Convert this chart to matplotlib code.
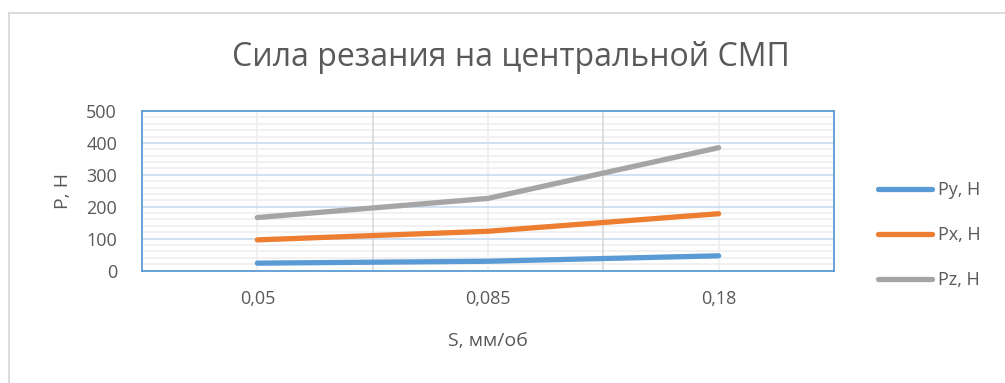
import matplotlib
matplotlib.use("Agg")
import matplotlib.pyplot as plt
from matplotlib.lines import Line2D
from matplotlib.ticker import MultipleLocator

# Feed values and cutting force components
feeds = ["0,05", "0,085", "0,18"]
py_vals = [23, 29, 46]
px_vals = [96, 123, 178]
pz_vals = [166, 226, 385]
series_names = ["Py, H", "Px, H", "Pz, H"]
y_ticks = [0, 100, 200, 300, 400, 500]

colors = ["#5b9bd5", "#ed7d31", "#a5a5a5"]
text_color = "#595959"

plt.rcParams["font.family"] = ["Open Sans", "DejaVu Sans"]

W, H = 1005, 383
fig = plt.figure(figsize=(W / 100, H / 100), dpi=100)

# plot area in pixel units
left, right, top, bottom = 142, 834, 111, 270.5
ax = fig.add_axes([left / W, 1 - bottom / H, (right - left) / W, (bottom - top) / H])

x = list(range(len(feeds)))
for vals, c, name in zip([py_vals, px_vals, pz_vals], colors, series_names):
    ax.plot(x, vals, color=c, lw=3.8, solid_capstyle="round",
            solid_joinstyle="round", label=name, zorder=3)

ax.set_xlim(-0.5, len(feeds) - 0.5)
ax.set_ylim(0, 500)
ax.set_yticks(y_ticks)
ax.yaxis.set_minor_locator(MultipleLocator(20))
ax.set_xticks(x)
ax.set_xticklabels(feeds)
ax.set_xticks([i + 0.5 for i in x[:-1]], minor=True)

# gridlines
for yv in range(20, 500, 20):
    if yv % 100:
        ax.axhline(yv, color="#efefef", lw=1.2, zorder=0)
for yv in y_ticks[1:-1]:
    ax.axhline(yv, color="#c8dbef", lw=1.2, zorder=1)
for xv in x:
    ax.axvline(xv, color="#efefef", lw=1.2, zorder=0)
for xv in [i + 0.5 for i in x[:-1]]:
    ax.axvline(xv, color="#d9d9d9", lw=1.2, zorder=1)

for s in ax.spines.values():
    s.set_color("#5b9bd5")
    s.set_linewidth(1.3)

ax.tick_params(which="both", length=0)
ax.tick_params(axis="y", labelsize=13, labelcolor=text_color, pad=18)
ax.tick_params(axis="x", labelsize=13, labelcolor=text_color, pad=14)

ax.set_xlabel("S, мм/об", fontsize=14, color=text_color, labelpad=17)
ax.set_ylabel("P, H", fontsize=14, color=text_color, labelpad=10)

fig.text(0.508, 1 - 57 / H, "Сила резания на центральной СМП", fontsize=23,
         color=text_color, ha="center", va="center")

handles = [Line2D([], [], color=c, lw=3.8, solid_capstyle="round") for c in colors]
fig.legend(handles, series_names, loc="center left",
           bbox_to_anchor=(862 / W, 1 - 235 / H), frameon=False,
           fontsize=13, labelcolor=text_color, handlelength=3.0,
           handletextpad=0.3, labelspacing=1.5)

# chart frame
fig.add_artist(Line2D([8.5 / W, 8.5 / W], [0, 1 - 12.5 / H], color="#d9d9d9", lw=1.3))
fig.add_artist(Line2D([8.5 / W, 1], [1 - 12.5 / H, 1 - 12.5 / H], color="#d9d9d9", lw=1.3))

fig.savefig("out.png", dpi=100, facecolor="white")
